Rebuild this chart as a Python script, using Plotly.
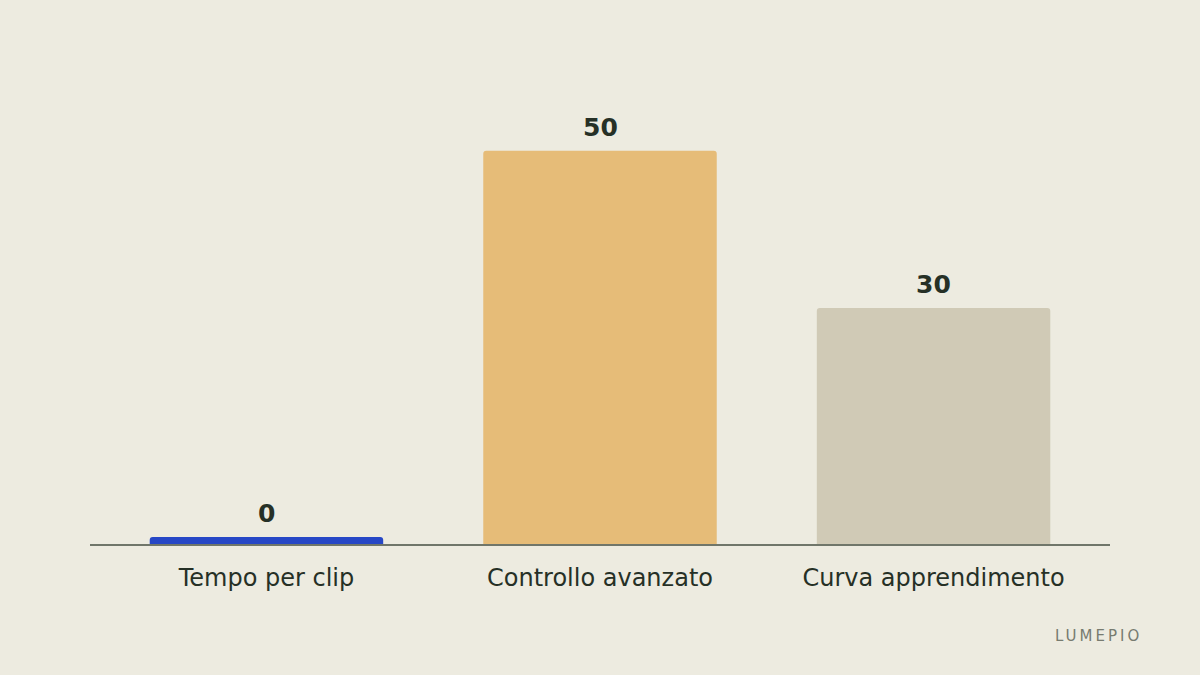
import plotly.graph_objects as go

categories = ["Tempo per clip", "Controllo avanzato", "Curva apprendimento"]
values = [0, 50, 30]
bar_colors = ["#2747C6", "#E6BC78", "#D0CAB6"]

BG = "#EDEBE0"
TEXT = "#263026"
AXIS = "#70766A"

# zero values get a small visible stub so the category is still marked
max_v = max(values)
stub = 0.018 * max_v
display = [v if v > 0 else stub for v in values]

fig = go.Figure()
fig.add_trace(go.Bar(
    x=categories,
    y=display,
    width=0.70,
    marker=dict(color=bar_colors, line=dict(width=0)),
    hoverinfo="skip",
))

for c, v, d in zip(categories, values, display):
    fig.add_annotation(
        x=c, y=d, text=f"<b>{v}</b>", showarrow=False,
        xref="x", yref="y", yanchor="bottom", yshift=7,
        font=dict(family="DejaVu Sans", size=25, color=TEXT),
    )

fig.add_annotation(
    xref="paper", yref="paper", x=1.033, y=-0.19, xanchor="right", yanchor="middle",
    text='<span style="letter-spacing:3px">LUMEPIO</span>', showarrow=False,
    font=dict(family="DejaVu Sans", size=15, color="#777B70"),
)

fig.update_layout(
    width=1200, height=675,
    paper_bgcolor=BG, plot_bgcolor=BG,
    margin=dict(l=90, r=90, t=60, b=131),
    showlegend=False,
    barcornerradius=3,
    font=dict(family="DejaVu Sans", color=TEXT),
)
fig.update_xaxes(
    range=[-0.529, 2.529],
    showline=True, linecolor=AXIS, linewidth=2,
    showgrid=False, zeroline=False,
    ticks="outside", ticklen=11, tickcolor="rgba(0,0,0,0)",
    tickfont=dict(family="DejaVu Sans", size=24, color=TEXT),
    fixedrange=True,
)
fig.update_yaxes(
    range=[0, 61.55],
    showgrid=False, zeroline=False, showticklabels=False, showline=False,
    fixedrange=True,
)

fig.write_html(
    "out.html",
    config={"displayModeBar": False},
    post_script="document.body.style.margin='0';document.body.style.background='#EDEBE0';",
)
